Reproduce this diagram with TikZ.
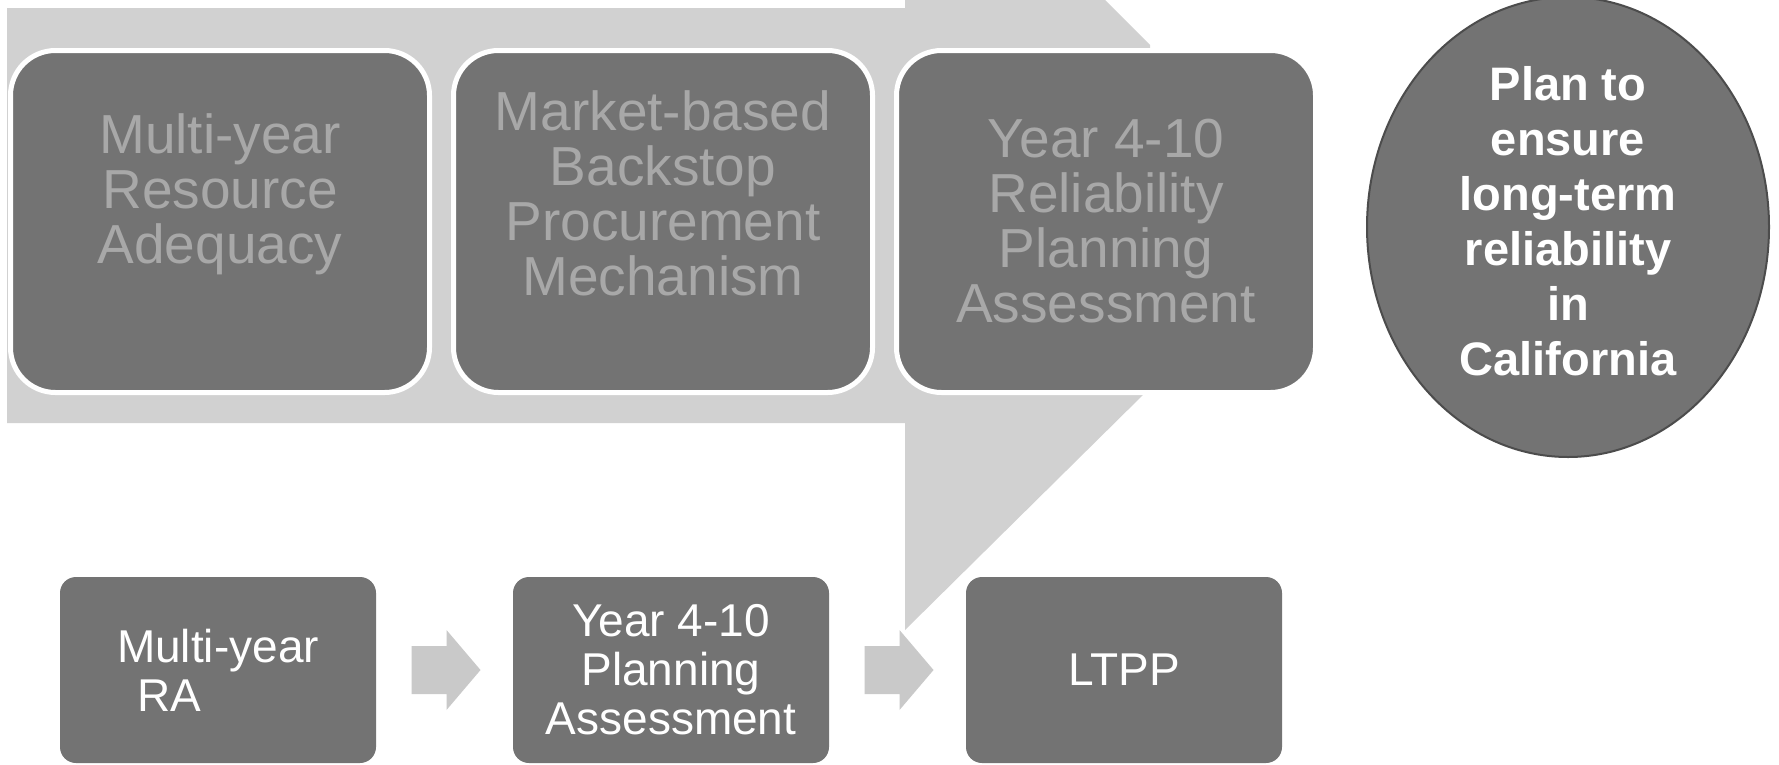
\documentclass[tikz,border=0pt]{standalone}
\usepackage{fontspec}
\setmainfont{Liberation Sans}
\usetikzlibrary{positioning,calc,shapes.geometric}

\definecolor{boxgray}{gray}{0.45}
\definecolor{bandgray}{gray}{0.82}
\definecolor{arrowgray}{gray}{0.79}
\definecolor{ghostgray}{gray}{0.66}
\definecolor{rimgray}{gray}{0.30}

\begin{document}
\begin{tikzpicture}[x=1pt,y=-1pt,
		top node/.style={rectangle,rounded corners=45pt,fill=boxgray,draw=white,line width=5pt,
			outer sep=0pt,minimum width=419pt,minimum height=342pt},
		top text/.style={text=ghostgray,align=center,inner sep=0pt,font=\fontsize{55}{55}\selectfont},
		flow node/.style={rectangle,rounded corners=16pt,fill=boxgray,outer sep=0pt,inner sep=0pt,
			minimum width=316pt,minimum height=186pt,text=white,font=\fontsize{46}{49}\selectfont},
		goal node/.style={ellipse,fill=boxgray,draw=rimgray,line width=2pt,outer sep=0pt,
			minimum width=402pt,minimum height=460pt},
		goal text/.style={text=white,align=center,inner sep=0pt,font=\bfseries\fontsize{47}{55}\selectfont},
		flow arrow/.style={fill=arrowgray}]
	\useasboundingbox[fill=white] (0,0) rectangle (1779,764);
	%
	% Light band behind the top row, with its wedge down to the flow.
	\fill[bandgray] (7,8) -- (905,8) -- (905,0) -- (1105,0) -- (1150,45) -- (1150,388)
		-- (905,630) -- (905,423) -- (7,423) -- cycle;
	%
	% Top row.
	\node[top node] (mra) at (220,221.5) {};
	\node[top node] (mbp) [right=24pt of mra] {};
	\node[top node] (rpa) [right=24pt of mbp] {};
	\node[top text] (mratext) at ([yshift=27pt]mra.center) {Multi-year\\Resource\\Adequacy};
	\node[top text] (mbptext) at ([yshift=28pt]mbp.center) {Market-based\\Backstop\\Procurement\\Mechanism};
	\node[top text] (rpatext) at (rpa.center) {Year 4-10\\Reliability\\Planning\\Assessment};
	%
	% Goal.
	\node[goal node] (plan) at (1568,227) {};
	\node[goal text] (plantext) at ([yshift=6pt]plan.center) {Plan to\\ensure\\long-term\\reliability\\in\\California};
	%
	% Bottom flow.
	\node[flow node,align=left] (ra) at (218,670) {Multi-year\\\hspace*{20pt}RA};
	\node[flow node,align=center] (pa) [right=137pt of ra] {Year 4-10\\Planning\\Assessment};
	\node[flow node] (ltpp) [right=137pt of pa] {LTPP};
	\foreach \from/\to in {ra/pa,pa/ltpp}
		\fill[flow arrow] ($(\from.east)!0.5!(\to.west)$) ++(-33,-24) -- ++(35,0) -- ++(0,-16)
			-- ++(34,40) -- ++(-34,40) -- ++(0,-16) -- ++(-35,0) -- cycle;
\end{tikzpicture}
\end{document}
